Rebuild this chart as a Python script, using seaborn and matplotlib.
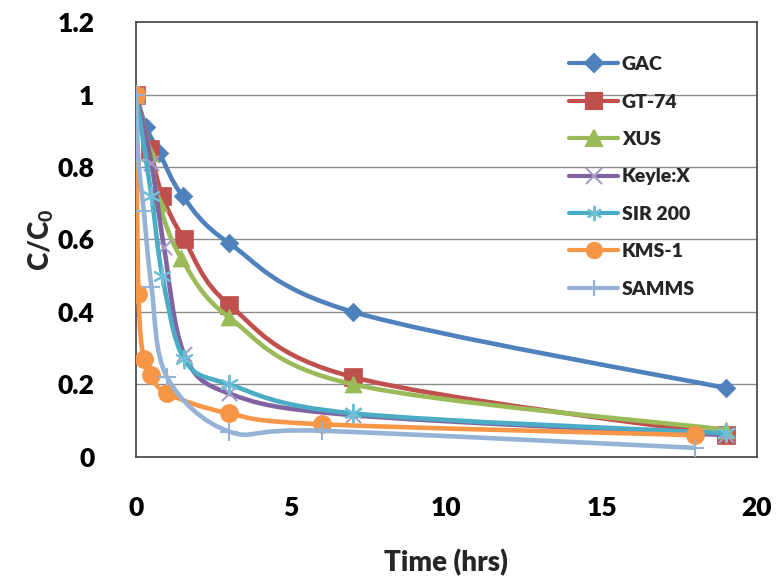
import numpy as np
import pandas as pd
import matplotlib
matplotlib.use("Agg")
import matplotlib.pyplot as plt
from matplotlib.path import Path
from matplotlib.patches import PathPatch
from matplotlib.lines import Line2D
import seaborn as sns

# ---- data ----
series_names = ["GAC", "GT-74", "XUS", "Keyle:X", "SIR 200", "KMS-1", "SAMMS"]

t_gac = [0, 0.33, 0.75, 1.5, 3, 7, 19]
y_gac = [1.0, 0.91, 0.84, 0.72, 0.59, 0.40, 0.19]

t_gt74 = [0, 0.45, 0.85, 1.55, 3, 7, 19]
y_gt74 = [1.0, 0.85, 0.72, 0.60, 0.42, 0.22, 0.06]

t_xus = [0, 0.45, 0.75, 1.45, 3, 7, 19]
y_xus = [1.0, 0.84, 0.70, 0.55, 0.385, 0.20, 0.075]

t_keyle = [0, 0.5, 0.9, 1.55, 3, 7, 19]
y_keyle = [1.0, 0.81, 0.58, 0.285, 0.175, 0.115, 0.06]

t_sir = [0, 0.5, 0.85, 1.55, 3, 7, 19]
y_sir = [1.0, 0.72, 0.50, 0.27, 0.20, 0.12, 0.065]

t_kms = [0, 0.08, 0.25, 0.5, 1, 3, 6, 18]
y_kms = [1.0, 0.45, 0.27, 0.225, 0.175, 0.12, 0.09, 0.06]

t_samms = [0, 0.08, 0.25, 0.5, 1, 3, 6, 18]
y_samms = [1.0, 0.82, 0.68, 0.47, 0.22, 0.07, 0.072, 0.025]

x_ticks = [0, 5, 10, 15, 20]
y_ticks = [0, 0.2, 0.4, 0.6, 0.8, 1.0, 1.2]
y_ticklabels = ["0", "0.2", "0.4", "0.6", "0.8", "1", "1.2"]

# ---- styles ----
colors = ["#4F81BD", "#C0504D", "#9BBB59", "#8064A2", "#4BACC6", "#F79646", "#95B3D7"]
marker_colors = ["#4F81BD", "#C0504D", "#9BBB59", "#A99BC6", "#6FC0D6", "#F79646", "#95B3D7"]
markers = ["D", "s", "^", "x", (6, 2, 0), "o", "+"]
msizes = [90, 150, 150, 120, 160, 170, 180]

sns.set_theme(style="white")
plt.rcParams["font.family"] = ["Lato", "DejaVu Sans"]
plt.rcParams["mathtext.fontset"] = "custom"
plt.rcParams["mathtext.rm"] = "Lato:black"
plt.rcParams["mathtext.bf"] = "Lato:black"
plt.rcParams["mathtext.it"] = "Lato:black"

W = "heavy"

fig = plt.figure(figsize=(7.77, 5.82), dpi=100)
ax = fig.add_axes([0.175, 0.215, 0.799, 0.747])

frames = []
data = [(t_gac, y_gac), (t_gt74, y_gt74), (t_xus, y_xus), (t_keyle, y_keyle),
        (t_sir, y_sir), (t_kms, y_kms), (t_samms, y_samms)]
for name, (t, y) in zip(series_names, data):
    frames.append(pd.DataFrame({"t": t, "c": y, "series": name}))
df = pd.concat(frames, ignore_index=True)


def smooth_path(t, y):
    """Bezier (Excel-style smoothed) path through the data points."""
    p = np.column_stack([t, y]).astype(float)
    n = len(p)
    verts = [p[0]]
    codes = [Path.MOVETO]
    for i in range(n - 1):
        p0 = p[i - 1] if i > 0 else p[i]
        p1 = p[i]
        p2 = p[i + 1]
        p3 = p[i + 2] if i + 2 < n else p[i + 1]
        c1 = p1 + (p2 - p0) / 6.0
        c2 = p2 - (p3 - p1) / 6.0
        verts += [c1, c2, p2]
        codes += [Path.CURVE4] * 3
    return Path(verts, codes)


for i, name in enumerate(series_names):
    sub = df[df["series"] == name]
    path = smooth_path(sub["t"].values, sub["c"].values)
    ax.add_patch(PathPatch(path, facecolor="none", edgecolor=colors[i], lw=3.3,
                           capstyle="round", joinstyle="round", zorder=3 + i))
    m = markers[i]
    filled = m not in ("x", "+") and not isinstance(m, tuple)
    if filled:
        sns.scatterplot(data=sub, x="t", y="c", marker=m, s=msizes[i],
                        color=marker_colors[i], edgecolor=marker_colors[i],
                        linewidth=0.5, ax=ax, zorder=3.5 + i, legend=False)
    else:
        sns.scatterplot(data=sub, x="t", y="c", marker=m, s=msizes[i],
                        color=marker_colors[i], linewidth=1.5, ax=ax,
                        zorder=3.5 + i, legend=False)

ax.set_xlim(0, 20)
ax.set_ylim(0, 1.2)
ax.set_xticks(x_ticks)
ax.set_xticklabels([str(v) for v in x_ticks])
ax.set_yticks(y_ticks)
ax.set_yticklabels(y_ticklabels)
ax.tick_params(axis="both", length=0, labelsize=19, colors="black")
ax.tick_params(axis="x", pad=28)
ax.tick_params(axis="y", pad=30)
for lab in ax.get_xticklabels() + ax.get_yticklabels():
    lab.set_fontweight(W)

for v in y_ticks[1:-1]:
    ax.axhline(v, color="#8C8C8C", lw=1.0, zorder=1)

for sp in ax.spines.values():
    sp.set_visible(True)
    sp.set_color("#404040")
    sp.set_linewidth(1.2)

ax.set_xlabel("Time (hrs)", fontsize=20, fontweight=W, labelpad=21)
ax.set_ylabel(r"$\mathbf{C/C_0}$", fontsize=20, labelpad=1)

handles = []
for i, name in enumerate(series_names):
    m = markers[i]
    handles.append(Line2D([0], [0], color=colors[i], lw=3, marker=m,
                          markersize=11 if m != "D" else 9,
                          markerfacecolor=marker_colors[i],
                          markeredgecolor=marker_colors[i],
                          markeredgewidth=1.5, label=name))
leg = ax.legend(handles=handles, loc="upper left", bbox_to_anchor=(0.67, 0.962),
                frameon=False, handlelength=2.5, handletextpad=0.2,
                labelspacing=1.05, prop={"weight": W, "size": 14})

fig.savefig("out.png", dpi=100)
